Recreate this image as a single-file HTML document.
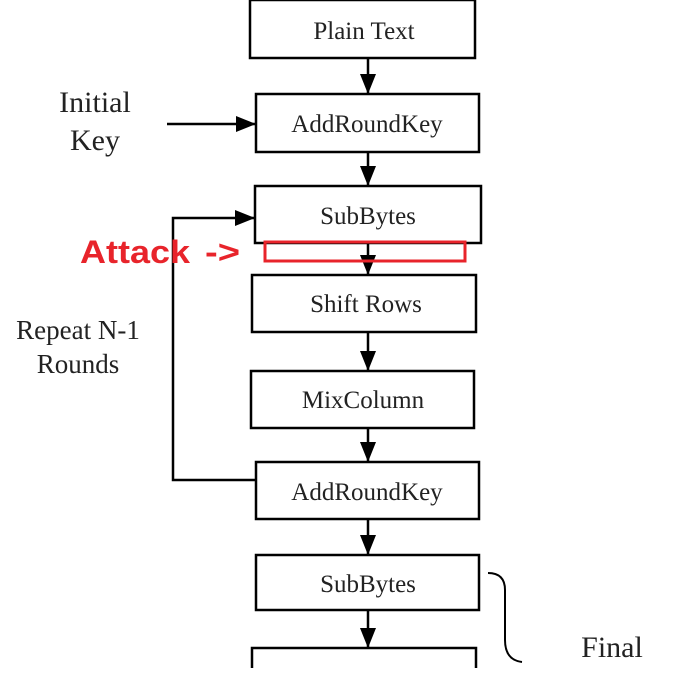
<!DOCTYPE html>
<html><head><style>
body{margin:0;background:#fff;}
svg text{font-family:"Liberation Serif",serif;fill:#222;}
svg text.atk{font-family:"Liberation Sans",sans-serif;font-weight:bold;fill:#e8242b;font-size:32px;}
</style></head><body>
<svg width="679" height="668" viewBox="0 0 679 668" xmlns="http://www.w3.org/2000/svg">
<defs><marker id="b" markerWidth="20" markerHeight="16" refX="19" refY="8" orient="auto" markerUnits="userSpaceOnUse"><path d="M0,0 L20,8 L0,16 z" fill="#000"/></marker></defs>
<g fill="none" stroke="#000" stroke-width="2.5">
<rect x="250" y="0" width="225" height="58"/>
<rect x="256" y="94" width="223" height="58"/>
<rect x="255" y="186" width="226" height="57"/>
<rect x="252" y="275" width="224" height="57"/>
<rect x="251" y="371" width="223" height="57"/>
<rect x="256" y="462" width="223" height="57"/>
<rect x="256" y="555" width="223" height="55"/>
<rect x="252" y="648" width="224" height="40"/>
</g>
<g stroke="#000" stroke-width="2.5" fill="none">
<line x1="368" y1="58" x2="368" y2="93" marker-end="url(#b)"/>
<line x1="368" y1="152" x2="368" y2="185" marker-end="url(#b)"/>
<line x1="368" y1="243" x2="368" y2="274" marker-end="url(#b)"/>
<line x1="368" y1="332" x2="368" y2="370" marker-end="url(#b)"/>
<line x1="368" y1="428" x2="368" y2="461" marker-end="url(#b)"/>
<line x1="368" y1="519" x2="368" y2="554" marker-end="url(#b)"/>
<line x1="368" y1="610" x2="368" y2="647" marker-end="url(#b)"/>
<line x1="167" y1="124" x2="255" y2="124" marker-end="url(#b)"/>
<polyline points="256,480 173,480 173,218 254,218" marker-end="url(#b)"/>
<path d="M488,573 Q505,573 505,590 L505,640 Q505,660 522,662" stroke-width="2"/>
</g>
<rect x="265" y="242" width="200" height="19" fill="none" stroke="#e8242b" stroke-width="3"/>
<g font-size="25" text-anchor="middle">
<text x="364" y="39">Plain Text</text>
<text x="367" y="132">AddRoundKey</text>
<text x="368" y="224">SubBytes</text>
<text x="366" y="312">Shift Rows</text>
<text x="363" y="408">MixColumn</text>
<text x="367" y="500">AddRoundKey</text>
<text x="368" y="592">SubBytes</text>
</g>
<g font-size="30" text-anchor="middle">
<text x="95" y="112">Initial</text>
<text x="95" y="150">Key</text>
<text x="612" y="657">Final</text>
</g>
<g font-size="27" text-anchor="middle">
<text x="78" y="339">Repeat N-1</text>
<text x="78" y="373">Rounds</text>
</g>
<text class="atk" x="80" y="263" textLength="110" lengthAdjust="spacingAndGlyphs">Attack</text>
<text class="atk" x="205" y="263" textLength="35" lengthAdjust="spacingAndGlyphs">-&gt;</text>
</svg>
</body></html>
